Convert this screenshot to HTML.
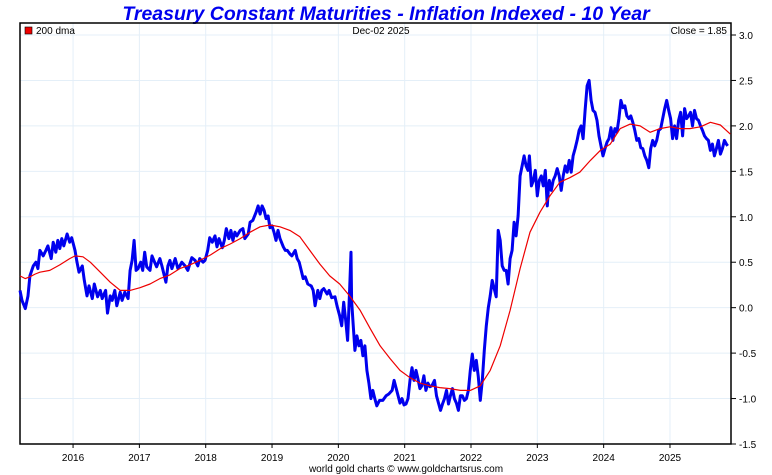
<!DOCTYPE html>
<html><head><meta charset="utf-8"><style>
html,body{margin:0;padding:0;background:#fff;}
svg{display:block;font-family:"Liberation Sans",sans-serif;}
</style></head><body>
<svg id="chart" width="772" height="475" viewBox="0 0 772 475">
<text x="386" y="20" text-anchor="middle" font-size="19.5" font-weight="bold" font-style="italic" fill="#0000ee">Treasury Constant Maturities - Inflation Indexed - 10 Year</text>
<g id="grid"></g>
<rect x="20" y="23" width="711" height="421" fill="none" stroke="#000" stroke-width="1.5"/>
<rect x="25" y="27" width="7" height="7" fill="#ee0000" stroke="#000" stroke-width="0.6"/>
<text x="36" y="34" font-size="10">200 dma</text>
<text x="381" y="34" font-size="10" text-anchor="middle">Dec-02  2025</text>
<text x="727" y="34" font-size="10" text-anchor="end">Close = 1.85</text>
<g id="axes"></g>
<g id="series"></g>
<text x="406" y="472" font-size="10" text-anchor="middle">world gold charts © www.goldchartsrus.com</text>
</svg>
<script>
const yTicks = [3.0,2.5,2.0,1.5,1.0,0.5,0.0,-0.5,-1.0,-1.5];
const years = [2016,2017,2018,2019,2020,2021,2022,2023,2024,2025];
const blueSeries = [[2015.20,.19],[2015.23,.08],[2015.28,-.01],[2015.32,.13],[2015.35,.35],[2015.40,.46],[2015.44,.50],[2015.47,.43],[2015.50,.63],[2015.55,.57],[2015.59,.63],[2015.62,.68],[2015.67,.54],[2015.70,.72],[2015.74,.61],[2015.77,.74],[2015.80,.65],[2015.83,.76],[2015.86,.68],[2015.91,.81],[2015.95,.72],[2015.98,.77],[2016.03,.63],[2016.06,.50],[2016.09,.39],[2016.14,.46],[2016.17,.30],[2016.21,.13],[2016.24,.24],[2016.29,.10],[2016.32,.26],[2016.37,.12],[2016.41,.19],[2016.44,.10],[2016.49,.19],[2016.52,-.06],[2016.56,.13],[2016.59,.08],[2016.63,.19],[2016.66,.02],[2016.71,.17],[2016.74,.08],[2016.78,.17],[2016.83,.10],[2016.86,.41],[2016.89,.52],[2016.92,.74],[2016.95,.41],[2016.98,.43],[2017.02,.50],[2017.05,.41],[2017.08,.61],[2017.11,.45],[2017.16,.41],[2017.19,.57],[2017.23,.50],[2017.26,.45],[2017.31,.54],[2017.34,.46],[2017.37,.37],[2017.40,.28],[2017.43,.46],[2017.46,.52],[2017.49,.43],[2017.54,.54],[2017.58,.43],[2017.61,.46],[2017.64,.50],[2017.69,.46],[2017.73,.41],[2017.76,.48],[2017.79,.55],[2017.84,.52],[2017.88,.46],[2017.91,.54],[2017.96,.50],[2017.99,.52],[2018.03,.63],[2018.06,.77],[2018.10,.72],[2018.14,.79],[2018.17,.67],[2018.20,.76],[2018.25,.66],[2018.28,.74],[2018.31,.87],[2018.35,.76],[2018.38,.85],[2018.41,.74],[2018.44,.83],[2018.47,.79],[2018.52,.85],[2018.56,.87],[2018.59,.76],[2018.64,.81],[2018.67,.94],[2018.71,.96],[2018.76,1.05],[2018.79,1.12],[2018.82,1.03],[2018.85,1.12],[2018.88,1.07],[2018.91,.98],[2018.94,1.01],[2018.97,.88],[2019.00,.90],[2019.03,.83],[2019.06,.74],[2019.09,.85],[2019.12,.76],[2019.17,.67],[2019.20,.63],[2019.23,.63],[2019.27,.59],[2019.30,.57],[2019.35,.63],[2019.38,.54],[2019.41,.50],[2019.44,.41],[2019.47,.32],[2019.50,.34],[2019.54,.26],[2019.59,.24],[2019.62,.19],[2019.65,.02],[2019.69,.19],[2019.72,.10],[2019.75,.19],[2019.78,.21],[2019.83,.15],[2019.86,.19],[2019.90,.11],[2019.95,.12],[2019.98,.02],[2020.02,-.09],[2020.05,-.20],[2020.08,.06],[2020.11,-.14],[2020.14,-.36],[2020.17,.19],[2020.19,.61],[2020.20,.08],[2020.22,-.14],[2020.25,-.47],[2020.28,-.31],[2020.31,-.42],[2020.34,-.36],[2020.37,-.53],[2020.40,-.42],[2020.43,-.69],[2020.46,-.83],[2020.49,-1.00],[2020.52,-.91],[2020.55,-1.00],[2020.58,-1.08],[2020.62,-1.02],[2020.67,-1.02],[2020.72,-.97],[2020.76,-.95],[2020.81,-.91],[2020.84,-.80],[2020.88,-.91],[2020.93,-1.05],[2020.96,-1.00],[2020.99,-1.07],[2021.02,-1.06],[2021.05,-1.00],[2021.08,-.80],[2021.11,-.66],[2021.14,-.80],[2021.17,-.69],[2021.20,-.78],[2021.23,-.89],[2021.26,-.86],[2021.29,-.75],[2021.32,-.91],[2021.35,-.83],[2021.38,-.87],[2021.41,-.86],[2021.45,-.80],[2021.48,-.97],[2021.51,-1.05],[2021.54,-1.13],[2021.57,-1.06],[2021.60,-1.00],[2021.63,-.91],[2021.66,-1.06],[2021.69,-.97],[2021.72,-.89],[2021.75,-1.00],[2021.78,-1.05],[2021.81,-1.13],[2021.84,-.97],[2021.87,-.97],[2021.90,-1.02],[2021.93,-1.00],[2021.96,-.91],[2021.99,-.69],[2022.02,-.51],[2022.05,-.69],[2022.08,-.58],[2022.11,-.76],[2022.14,-1.02],[2022.17,-.80],[2022.20,-.47],[2022.23,-.20],[2022.26,0],[2022.29,.13],[2022.32,.30],[2022.35,.21],[2022.38,.12],[2022.41,.85],[2022.44,.74],[2022.47,.46],[2022.50,.41],[2022.53,.41],[2022.56,.26],[2022.59,.54],[2022.62,.63],[2022.65,.94],[2022.68,.79],[2022.71,1.01],[2022.74,1.45],[2022.77,1.56],[2022.80,1.67],[2022.83,1.56],[2022.86,1.51],[2022.88,1.67],[2022.91,1.34],[2022.94,1.40],[2022.97,1.51],[2023.00,1.23],[2023.03,1.40],[2023.06,1.45],[2023.09,1.34],[2023.12,1.51],[2023.15,1.12],[2023.17,1.34],[2023.18,1.40],[2023.21,1.29],[2023.24,1.40],[2023.27,1.45],[2023.30,1.53],[2023.33,1.45],[2023.36,1.29],[2023.39,1.45],[2023.42,1.56],[2023.45,1.49],[2023.48,1.62],[2023.51,1.49],[2023.54,1.67],[2023.57,1.75],[2023.60,1.84],[2023.63,1.95],[2023.66,2.00],[2023.69,1.86],[2023.72,2.17],[2023.75,2.44],[2023.78,2.50],[2023.81,2.28],[2023.84,2.17],[2023.87,2.15],[2023.90,2.06],[2023.93,1.89],[2023.96,1.78],[2023.99,1.67],[2024.02,1.75],[2024.05,1.82],[2024.08,1.86],[2024.11,1.98],[2024.14,1.84],[2024.17,1.97],[2024.20,1.93],[2024.23,2.08],[2024.26,2.28],[2024.29,2.20],[2024.32,2.22],[2024.35,2.11],[2024.38,2.08],[2024.41,2.11],[2024.44,2.04],[2024.47,1.95],[2024.50,1.84],[2024.53,1.86],[2024.56,1.76],[2024.59,1.75],[2024.62,1.67],[2024.65,1.62],[2024.68,1.54],[2024.71,1.75],[2024.74,1.84],[2024.77,1.78],[2024.80,1.84],[2024.83,1.95],[2024.86,1.97],[2024.89,2.08],[2024.92,2.19],[2024.95,2.28],[2024.98,2.17],[2025.01,2.08],[2025.04,1.86],[2025.07,2.00],[2025.10,1.86],[2025.13,2.06],[2025.16,2.15],[2025.19,1.89],[2025.22,2.19],[2025.25,2.08],[2025.28,2.11],[2025.31,2.15],[2025.34,2.00],[2025.37,2.17],[2025.40,2.08],[2025.43,2.06],[2025.46,2.00],[2025.49,1.95],[2025.52,1.89],[2025.55,1.86],[2025.58,1.84],[2025.61,1.73],[2025.64,1.80],[2025.67,1.67],[2025.70,1.75],[2025.73,1.84],[2025.76,1.69],[2025.79,1.75],[2025.82,1.84],[2025.85,1.80],[2025.87,1.78]];
const dmaSeries = [[2015.20,.35],[2015.28,.32],[2015.35,.34],[2015.43,.37],[2015.50,.39],[2015.65,.41],[2015.80,.47],[2015.95,.54],[2016.03,.57],[2016.15,.56],[2016.26,.50],[2016.41,.39],[2016.56,.28],[2016.71,.19],[2016.86,.19],[2017.01,.22],[2017.16,.26],[2017.31,.32],[2017.46,.36],[2017.61,.43],[2017.76,.47],[2017.91,.52],[2018.07,.58],[2018.22,.65],[2018.37,.70],[2018.52,.76],[2018.67,.83],[2018.82,.89],[2018.97,.91],[2019.12,.89],[2019.27,.85],[2019.42,.78],[2019.57,.63],[2019.72,.48],[2019.87,.35],[2020.02,.26],[2020.17,.13],[2020.33,-.03],[2020.48,-.23],[2020.63,-.42],[2020.78,-.56],[2020.93,-.69],[2021.08,-.77],[2021.23,-.83],[2021.38,-.86],[2021.53,-.88],[2021.68,-.89],[2021.84,-.91],[2021.99,-.91],[2022.14,-.86],[2022.29,-.69],[2022.44,-.42],[2022.59,-.03],[2022.74,.43],[2022.89,.83],[2023.04,1.05],[2023.19,1.23],[2023.34,1.38],[2023.49,1.43],[2023.64,1.49],[2023.80,1.62],[2023.95,1.73],[2024.10,1.80],[2024.25,1.97],[2024.40,2.02],[2024.55,2.00],[2024.70,1.93],[2024.85,1.97],[2025.00,1.99],[2025.15,1.97],[2025.30,1.97],[2025.46,1.99],[2025.61,2.04],[2025.76,2.01],[2025.91,1.91]];

const NS='http://www.w3.org/2000/svg';
const X0=20, X1=731, D0=2015.2, D1=2025.92;
const Y0=444, Y1=35, V0=-1.5, V1=3.0;
function xs(d){return X0+(d-D0)/(D1-D0)*(X1-X0);}
function ys(v){return Y0+(v-V0)/(V1-V0)*(Y1-Y0);}
function mk(tag,attrs,parent){const e=document.createElementNS(NS,tag);for(const k in attrs)e.setAttribute(k,attrs[k]);parent.appendChild(e);return e;}
const grid=document.getElementById('grid'), axes=document.getElementById('axes'), series=document.getElementById('series');
yTicks.forEach(v=>{
  const y=ys(v);
  if(v>V0+0.001){const g=mk('line',{x1:X0,x2:X1,y1:y,y2:y,stroke:'#e4eff8','stroke-width':1},grid);
  
  }
  const t=mk('line',{x1:X1,x2:X1+5,y1:y,y2:y,stroke:'#000','stroke-width':1},axes);
  
  
  const l=mk('text',{x:X1+8,y:y+4,'font-size':10},axes);
  l.textContent=v.toFixed(1);
  
  
});
years.forEach(yr=>{
  const x=xs(yr);
  const g=mk('line',{x1:x,x2:x,y1:23,y2:Y0,stroke:'#e4eff8','stroke-width':1},grid);
  
  
  const t=mk('line',{x1:x,x2:x,y1:Y0,y2:Y0+4,stroke:'#000','stroke-width':1},axes);
  
  
  const l=mk('text',{x:x,y:461,'font-size':10,'text-anchor':'middle'},axes);
  l.textContent=String(yr);
  
  
});
function path(arr){return arr.map((p,i)=>(i?'L':'M')+xs(p[0]).toFixed(1)+' '+ys(p[1]).toFixed(1)).join(' ');}
const blue=mk('path',{d:path(blueSeries),fill:'none',stroke:'#0000ee','stroke-width':3,'stroke-linejoin':'round'},series);


const red=mk('path',{d:path(dmaSeries),fill:'none',stroke:'#ee0000','stroke-width':1.2,'stroke-linejoin':'round'},series);


</script>
</body></html>
